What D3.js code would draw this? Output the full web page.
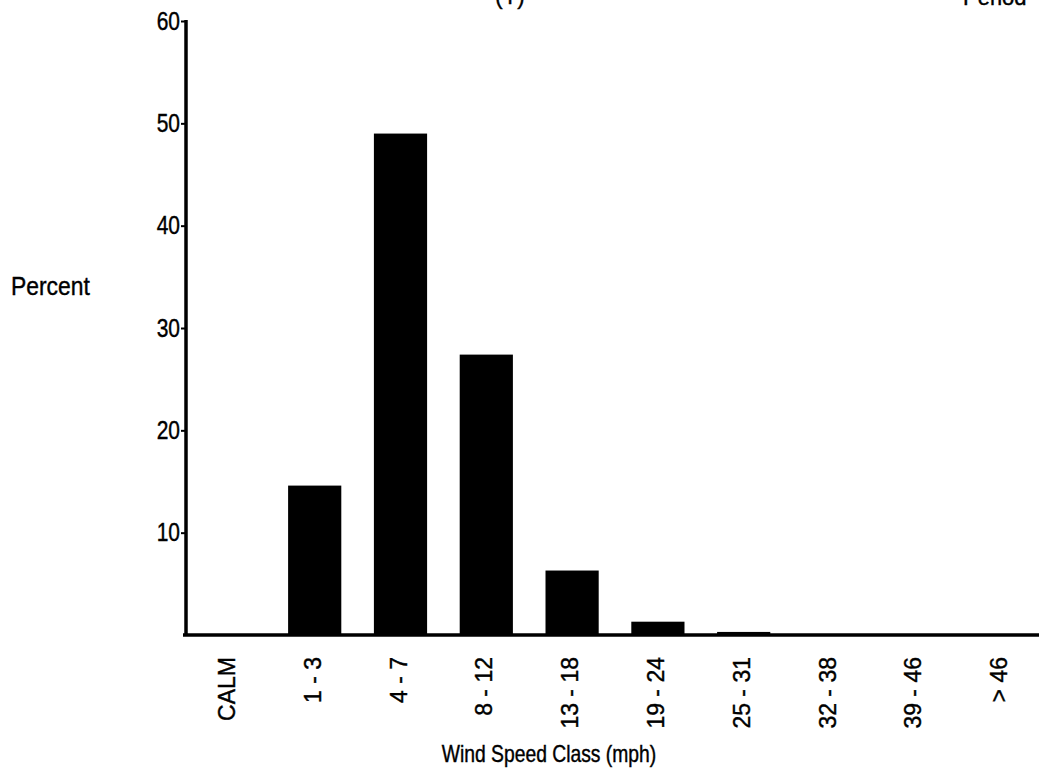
<!DOCTYPE html>
<html>
<head>
<meta charset="utf-8">
<script src="https://d3js.org/d3.v7.min.js"></script>
<style>
body { margin: 0; background: #fff; }
text { font-family: "Liberation Sans", Arial, sans-serif; fill: #000; stroke: #000; stroke-width: 0.4px; }
</style>
</head>
<body>
<script>

var classes = ["CALM", "1 - 3", "4 - 7", "8 - 12", "13 - 18", "19 - 24", "25 - 31", "32 - 38", "39 - 46", "> 46"];
var percents = [0, 14.6, 49.0, 27.4, 6.3, 1.3, 0.3, 0.05, 0, 0];
var yTicks = [10, 20, 30, 40, 50, 60];

var width = 1039,
    height = 777,
    narrow = 0.84;

var svg = d3.select("body").append("svg")
  .attr("width", width)
  .attr("height", height);

var x = d3.scaleBand()
  .domain(classes)
  .range([186, 1044])
  .paddingInner(0.38)
  .paddingOuter(0.19);

var y = d3.scaleLinear()
  .domain([0, 60])
  .range([635, 21]);

// bars
svg.selectAll("rect.bar")
  .data(percents)
  .enter().append("rect")
  .attr("class", "bar")
  .attr("x", function(d, i) { return x(classes[i]); })
  .attr("width", x.bandwidth())
  .attr("y", function(d) { return y(d); })
  .attr("height", function(d) { return y(0) - y(d); })
  .attr("fill", "#000");

// y axis
var yAxis = svg.append("g")
  .attr("transform", "translate(186,0)")
  .call(d3.axisLeft(y).tickValues(yTicks).tickSize(5).tickPadding(2));
yAxis.select(".domain").remove();
yAxis.selectAll(".tick line").attr("stroke", "#000").attr("stroke-width", 2);
// condensed look of the original lettering
yAxis.selectAll(".tick text")
  .attr("font-size", 25)
  .attr("font-family", null)
  .attr("fill", "#000")
  .attr("x", -6 / narrow)
  .attr("transform", "scale(" + narrow + ",1)");

svg.append("line")
  .attr("x1", 186).attr("x2", 186)
  .attr("y1", y(60) - 1).attr("y2", y(0) + 1)
  .attr("stroke", "#000").attr("stroke-width", 3.5);

// baseline
svg.append("line")
  .attr("x1", 183).attr("x2", width)
  .attr("y1", y(0)).attr("y2", y(0))
  .attr("stroke", "#000").attr("stroke-width", 3.5);

// x labels
svg.selectAll("text.xlab")
  .data(classes)
  .enter().append("text")
  .attr("class", "xlab")
  .attr("transform", function(d) { return "translate(" + (x(d) + x.bandwidth() / 2 - 2) + ",657) rotate(-90)"; })
  .attr("text-anchor", "end")
  .attr("dy", "0.35em")
  .attr("font-size", 23)
  .text(function(d) { return d; });

svg.append("text")
  .attr("transform", "translate(549,762) scale(" + narrow + ",1)")
  .attr("text-anchor", "middle")
  .attr("font-size", 23)
  .text("Wind Speed Class (mph)");

svg.append("text")
  .attr("transform", "translate(11,295) scale(0.88,1)")
  .attr("font-size", 26)
  .text("Percent");

// titles cut off at the top edge of the page
svg.append("text")
  .attr("x", 510)
  .attr("y", 4)
  .attr("text-anchor", "middle")
  .attr("font-size", 22)
  .text("(Y)");

svg.append("text")
  .attr("x", 963)
  .attr("y", 5)
  .attr("font-size", 22)
  .text("Period");

</script>
</body>
</html>
